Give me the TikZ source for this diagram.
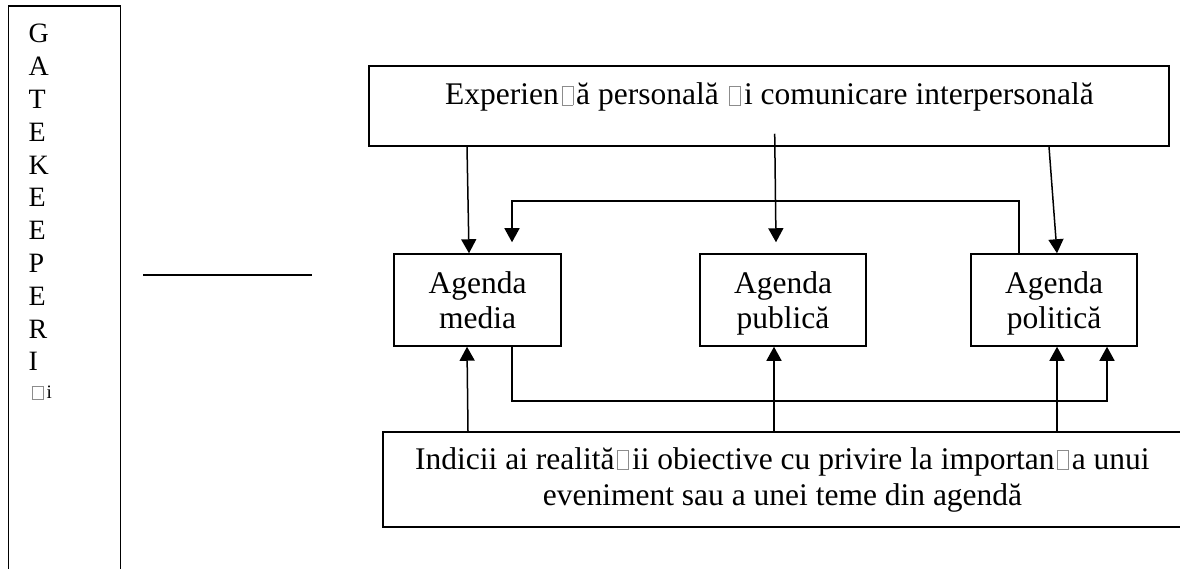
\documentclass[tikz,border=0pt]{standalone}
\usepackage{fontspec}
\setmainfont{Liberation Serif}
\usetikzlibrary{arrows.meta,calc}
\newcommand{\gbox}[2]{\kern2.8pt{\color{black!45}\setlength{\fboxsep}{0pt}\setlength{\fboxrule}{0.9pt}\fbox{\rule{0pt}{#2}\hspace{#1}}}\kern2.8pt}
\begin{document}
\begin{tikzpicture}[x=1pt,y=-1pt,
  box/.style={draw, line width=1.5pt, inner sep=0pt},
  txt/.style={inner sep=0pt, anchor=base, font=\fontsize{31.5pt}{35.5pt}\selectfont},
  arr/.style={line width=1.5pt, -{Triangle[length=14pt,width=15pt]}},
  ln/.style={line width=1.5pt}]
\useasboundingbox (0,0) rectangle (1180,569);
\clip (0,0) rectangle (1180,569);
% boxes
\node[box, minimum width=112.4pt, minimum height=634pt] (gate) at (64.5,323) {};
\node[box, minimum width=800pt, minimum height=80pt] (top) at (769,106) {};
\node[box, minimum width=167pt, minimum height=92pt] (media) at (477.5,300) {};
\node[box, minimum width=166pt, minimum height=92pt] (publica) at (783,300) {};
\node[box, minimum width=166pt, minimum height=92pt] (politica) at (1054,300) {};
\node[box, minimum width=799pt, minimum height=95pt] (bottom) at (782.5,479.5) {};
% texts
\node[inner sep=0pt, anchor=base west, font=\fontsize{28pt}{32.8pt}\selectfont] (gatetext) at (28.5,43)
  {\begin{tabular}[t]{@{}l@{}}G\\A\\T\\E\\K\\E\\E\\P\\E\\R\\I\\[-4.8pt]{\fontsize{19pt}{19pt}\selectfont\gbox{10.5pt}{12.5pt}i}\end{tabular}};
\node[txt] (toptext) at (769.5,105) {Experien\gbox{10pt}{18.5pt}ă personală \gbox{10pt}{18.5pt}i comunicare interpersonală};
\node[txt] (mediatext) at (477.5,293) {\begin{tabular}[t]{@{}c@{}}Agenda\\media\end{tabular}};
\node[txt] (publicatext) at (783,293) {\begin{tabular}[t]{@{}c@{}}Agenda\\publică\end{tabular}};
\node[txt] (politicatext) at (1054,293) {\begin{tabular}[t]{@{}c@{}}Agenda\\politică\end{tabular}};
\node[txt, font=\fontsize{31.5pt}{36pt}\selectfont] (bottomtext) at (782.5,469) {\begin{tabular}[t]{@{}c@{}}Indicii ai realită\gbox{10pt}{18.5pt}ii obiective cu privire la importan\gbox{10pt}{18.5pt}a unui\\eveniment sau a unei teme din agendă\end{tabular}};
% horizontal line
\coordinate (h1) at (143,275);
\coordinate (h2) at (312,275);
\draw[ln] (h1) -- (h2);
% arrows from top box
\draw[arr] ([xshift=-302pt]top.south) -- ([xshift=-8.5pt]media.north);
\draw[arr] ([xshift=5.7pt,yshift=13pt]top.south) -- ([xshift=-7pt,yshift=11pt]publica.north);
\draw[arr] ([xshift=280pt]top.south) -- ([xshift=3pt]politica.north);
% feedback politica -> media
\draw[arr] ([xshift=-35pt]politica.north) -- ++(0,-52) -| ([xshift=34.5pt,yshift=11pt]media.north);
% arrows from bottom box
\draw[arr] ([xshift=-314.5pt]bottom.north) -- ([xshift=-10.5pt]media.south);
\draw[arr] ([xshift=-8.5pt]bottom.north) -- ([xshift=-9pt]publica.south);
\draw[arr] ([xshift=274.5pt]bottom.north) -- ([xshift=3pt]politica.south);
% media -> politica
\draw[arr] ([xshift=34.5pt]media.south) -- ++(0,54) -| ([xshift=53pt]politica.south);
\end{tikzpicture}
\end{document}
